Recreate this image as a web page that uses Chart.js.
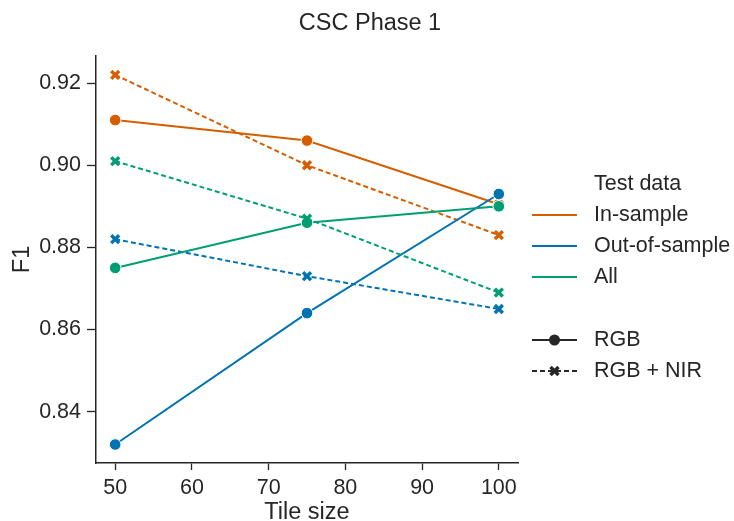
<!DOCTYPE html>
<html>
<head>
<meta charset="utf-8">
<script src="https://cdn.jsdelivr.net/npm/chart.js@4"></script>
<style>
  body { margin: 0; background: #fff; }
  #wrap { width: 734px; height: 521px; }
</style>
</head>
<body>
<div id="wrap"><canvas id="f1_chart" width="734" height="521"></canvas></div>
<script>
const tileSizes = [50, 75, 100];
const inSampleRGB = [0.911, 0.906, 0.8905];
const inSampleNIR = [0.922, 0.900, 0.883];
const outSampleRGB = [0.832, 0.864, 0.893];
const outSampleNIR = [0.882, 0.873, 0.865];
const allRGB = [0.875, 0.886, 0.890];
const allNIR = [0.901, 0.887, 0.869];
const xTicks = [50, 60, 70, 80, 90, 100];
const yTicks = [0.84, 0.86, 0.88, 0.90, 0.92];
const hueNames = ['In-sample', 'Out-of-sample', 'All'];
const styleNames = ['RGB', 'RGB + NIR'];

const colors = ['#d55e00', '#0173b2', '#029e73'];
const ink = '#262626';
const fontFam = '"Liberation Sans", Arial, sans-serif';

function pts(arr) {
  return tileSizes.map((t, i) => ({ x: t, y: arr[i] }));
}

function rgbSet(label, arr, color, order) {
  return {
    label: label, data: pts(arr), order: order,
    borderColor: color, borderWidth: 2,
    pointStyle: 'circle', pointRadius: 5.8,
    pointBackgroundColor: color, pointBorderColor: '#fff', pointBorderWidth: 1,
    tension: 0
  };
}
function nirSet(label, arr, color, order) {
  return {
    label: label, data: pts(arr), order: order,
    borderColor: color, borderWidth: 2, borderDash: [5, 3],
    pointStyle: 'crossRot', pointRadius: 5.6,
    pointBorderColor: color, pointBorderWidth: 3.4,
    tension: 0
  };
}

const f1_data = {
  datasets: [
    rgbSet('In-sample RGB', inSampleRGB, colors[0], 6),
    nirSet('In-sample RGB + NIR', inSampleNIR, colors[0], 5),
    rgbSet('Out-of-sample RGB', outSampleRGB, colors[1], 4),
    nirSet('Out-of-sample RGB + NIR', outSampleNIR, colors[1], 3),
    rgbSet('All RGB', allRGB, colors[2], 2),
    nirSet('All RGB + NIR', allNIR, colors[2], 1)
  ]
};

// title + legend drawn by hand, seaborn puts them outside the axes
const sideLegend = {
  id: 'sideLegend',
  afterDraw(chart) {
    const ctx = chart.ctx;
    ctx.save();
    ctx.fillStyle = ink;
    ctx.textBaseline = 'middle';
    ctx.font = '23.5px ' + fontFam;
    ctx.textAlign = 'center';
    ctx.fillText('CSC Phase 1', 370, 24);

    ctx.textAlign = 'left';
    ctx.font = '21.5px ' + fontFam;
    const x0 = 532, x1 = 577, tx = 594;
    ctx.fillText('Test data', tx, 184);
    hueNames.forEach((name, i) => {
      const y = 215 + i * 31;
      ctx.strokeStyle = colors[i];
      ctx.lineWidth = 2.2;
      ctx.beginPath(); ctx.moveTo(x0, y); ctx.lineTo(x1, y); ctx.stroke();
      ctx.fillText(name, tx, y);
    });
    styleNames.forEach((name, i) => {
      const y = 340 + i * 31;
      ctx.strokeStyle = ink;
      ctx.fillStyle = ink;
      ctx.lineWidth = 2.2;
      ctx.setLineDash(i ? [5, 3] : []);
      ctx.beginPath(); ctx.moveTo(x0, y); ctx.lineTo(x1, y); ctx.stroke();
      ctx.setLineDash([]);
      const mx = (x0 + x1) / 2;
      if (i === 0) {
        ctx.beginPath(); ctx.arc(mx, y, 5.5, 0, Math.PI * 2); ctx.fill();
      } else {
        ctx.lineWidth = 3.4;
        ctx.beginPath();
        ctx.moveTo(mx - 4, y - 4); ctx.lineTo(mx + 4, y + 4);
        ctx.moveTo(mx + 4, y - 4); ctx.lineTo(mx - 4, y + 4);
        ctx.stroke();
      }
      ctx.fillText(name, tx, y);
    });
    ctx.restore();
  }
};

const f1_config = {
  type: 'line',
  data: f1_data,
  plugins: [sideLegend],
  options: {
    responsive: false,
    animation: false,
    layout: { padding: { top: 56, right: 216, left: 0, bottom: 0 } },
    plugins: { legend: { display: false }, tooltip: { enabled: false } },
    scales: {
      x: {
        type: 'linear', min: 47.5, max: 102.5,
        afterBuildTicks: (s) => { s.ticks = xTicks.map(v => ({ value: v })); },
        afterFit: (s) => { s.height = 58; },
        grid: { drawOnChartArea: false, drawTicks: true, tickLength: 7, tickWidth: 1.3, tickColor: ink },
        border: { display: true, color: ink, width: 1.5 },
        ticks: { color: ink, font: { size: 21.5, family: fontFam }, padding: 5, maxRotation: 0 },
        title: { display: true, text: 'Tile size', color: ink, font: { size: 23.5, family: fontFam, lineHeight: 1 }, padding: { top: 0, bottom: -3 } }
      },
      y: {
        type: 'linear', min: 0.8275, max: 0.9266,
        afterBuildTicks: (s) => { s.ticks = yTicks.map(v => ({ value: v })); },
        afterFit: (s) => { s.width = 96; },
        grid: { drawOnChartArea: false, drawTicks: true, tickLength: 9, tickWidth: 1.3, tickColor: ink },
        border: { display: true, color: ink, width: 1.5 },
        ticks: { color: ink, font: { size: 21.5, family: fontFam }, padding: 6, callback: (v) => v.toFixed(2) },
        title: { display: true, text: 'F1', color: ink, font: { size: 23.5, family: fontFam, lineHeight: 1 }, padding: { top: 11, bottom: 0 } }
      }
    }
  }
};

let myF1Chart = new Chart(document.getElementById('f1_chart'), f1_config);
</script>
</body>
</html>
